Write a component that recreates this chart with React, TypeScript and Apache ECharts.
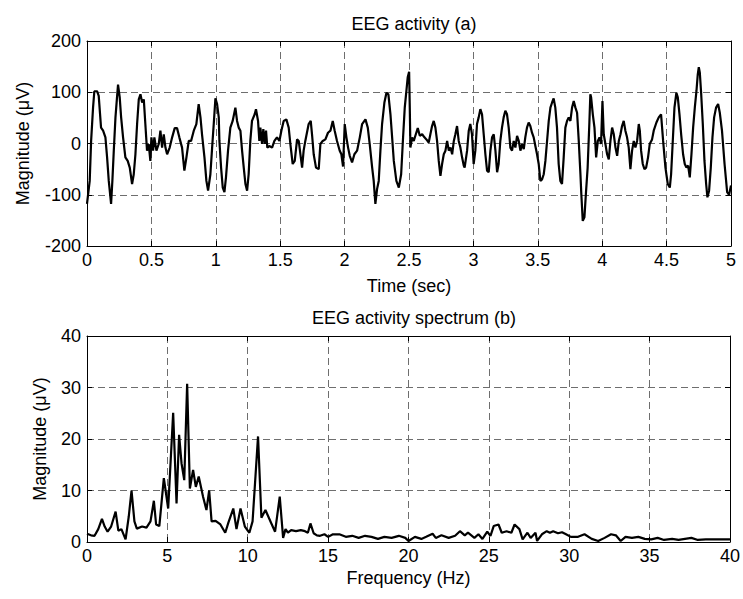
import React, { useEffect, useRef } from "react";
import * as echarts from "echarts";

// ---- EEG activity (a): time (sec) vs magnitude (uV) ----
const eegTime = [
  0.0, 0.021, 0.032, 0.047, 0.057, 0.078, 0.091, 0.109, 0.125, 0.143, 0.156, 0.169, 0.187, 0.197, 0.208, 0.221, 0.233, 0.241, 0.254, 0.265,
  0.28, 0.298, 0.316, 0.332, 0.35, 0.363, 0.376, 0.389, 0.402, 0.415, 0.428, 0.441, 0.453, 0.466, 0.479, 0.492, 0.5, 0.513, 0.523, 0.539,
  0.557, 0.57, 0.583, 0.596, 0.609, 0.622, 0.642, 0.661, 0.681, 0.699, 0.717, 0.738, 0.756, 0.772, 0.79, 0.808, 0.829, 0.849, 0.867, 0.881,
  0.893, 0.912, 0.927, 0.94, 0.958, 0.971, 0.984, 0.997,
  1.01, 1.023, 1.028, 1.041, 1.054, 1.067, 1.079, 1.095, 1.113, 1.131, 1.152, 1.165, 1.178, 1.191, 1.204, 1.217, 1.23, 1.243, 1.255, 1.268,
  1.281, 1.302, 1.312, 1.328, 1.338, 1.346, 1.359, 1.369, 1.38, 1.39, 1.4, 1.416, 1.437, 1.455, 1.475, 1.494, 1.509, 1.527, 1.548, 1.566,
  1.579, 1.597, 1.613, 1.631, 1.644, 1.657, 1.67, 1.682, 1.695, 1.721, 1.737, 1.747, 1.76, 1.778, 1.799, 1.812, 1.83, 1.851, 1.871, 1.89,
  1.908, 1.923, 1.941, 1.962,
  1.975, 1.988, 2.001, 2.014, 2.027, 2.04, 2.058, 2.076, 2.097, 2.118, 2.136, 2.162, 2.18, 2.195, 2.214, 2.226, 2.239, 2.252, 2.265, 2.278,
  2.291, 2.309, 2.325, 2.34, 2.356, 2.369, 2.382, 2.402, 2.421, 2.439, 2.454, 2.467, 2.48, 2.49, 2.501, 2.506, 2.511, 2.524, 2.537, 2.553,
  2.568, 2.584, 2.602, 2.62, 2.635, 2.653, 2.666, 2.679, 2.692, 2.705, 2.718, 2.731, 2.744, 2.757, 2.77, 2.783, 2.796, 2.809, 2.822, 2.835,
  2.848, 2.86, 2.873, 2.886, 2.899, 2.912, 2.925,
  2.932, 2.951, 2.964, 2.976, 2.989, 3.002, 3.015, 3.028, 3.041, 3.054, 3.067, 3.08, 3.093, 3.106, 3.119, 3.132, 3.145, 3.158, 3.171, 3.184,
  3.196, 3.209, 3.222, 3.235, 3.248, 3.261, 3.274, 3.287, 3.3, 3.313, 3.326, 3.339, 3.352, 3.365, 3.378, 3.391, 3.403, 3.416, 3.429, 3.442,
  3.455, 3.468, 3.481, 3.494, 3.507, 3.52, 3.533, 3.546, 3.559, 3.572, 3.585, 3.598, 3.611, 3.623, 3.636, 3.649, 3.662, 3.675, 3.688, 3.701,
  3.714, 3.727, 3.74, 3.753, 3.766, 3.779, 3.792, 3.805, 3.818, 3.831, 3.838, 3.849, 3.862, 3.875, 3.887, 3.9, 3.908,
  3.914, 3.927, 3.94, 3.953, 3.966, 3.979, 3.991, 4.002, 4.012, 4.025, 4.038, 4.051, 4.064, 4.077, 4.09, 4.103, 4.116, 4.129, 4.142, 4.154,
  4.167, 4.18, 4.193, 4.206, 4.219, 4.232, 4.245, 4.258, 4.271, 4.284, 4.292, 4.302, 4.315, 4.328, 4.341, 4.356, 4.369, 4.387, 4.4, 4.421,
  4.439, 4.457, 4.473, 4.491, 4.509, 4.525, 4.535, 4.548, 4.561, 4.576, 4.587, 4.6, 4.613, 4.628, 4.641, 4.654, 4.667, 4.68, 4.693, 4.706,
  4.719, 4.732, 4.742, 4.75, 4.758, 4.768, 4.781, 4.794, 4.807, 4.817, 4.83, 4.843, 4.856, 4.869, 4.884, 4.9, 4.913, 4.93, 4.95, 4.97,
  4.985, 5.0,
];
const eegValue = [
  -118, -73, 5, 70, 102, 102, 93, 31, 25, 12, -27, -73, -118, -73, -14, 51, 90, 115, 90, 51,
  12, -27, -34, -47, -79, -60, -21, 38, 86, 96, 80, 86, 38, -14, -1, -34, 12, -14, 12, -14,
  -1, 25, -8, 18, -8, -21, -8, 12, 30, 30, 12, -8, -53, -27, 5, 5, 25, 38, 77, 51,
  18, -27, -73, -92, -60, -10, 38, 88,
  77, 51, 5, -47, -86, -95, -66, -14, 31, 44, 70, 44, 31, 25, -14, -47, -79, -92, -60, 5,
  44, 57, 67, 44, 5, 31, -1, 28, -1, 25, -8, -5, -8, 5, 12, 5, 25, 44, 47, 31,
  -1, -40, -34, 8, 5, -21, -47, -14, 5, 38, 44, 18, -21, -47, -50, -1, 5, 8, 21, 25,
  44, 25, 5, -14,
  -21, -45, 38, 12, -8, -24, -37, -21, -14, 12, 38, 47, 31, -1, -47, -73, -118, -89, -73, -14,
  38, 80, 99, 96, 57, 12, -34, -73, -86, -60, 12, 70, 103, 129, 140, 70, -8, 12, 5, 18,
  30, 15, 18, 12, 8, 2, 18, 34, 44, 31, 5, -34, -63, -40, -21, -14, 5, -14, -8, -21,
  5, 18, 34, 5, -8, -27, -43,
  -47, -14, 25, 38, 18, -40, -14, 38, 51, 67, 57, 18, -21, -53, -56, -14, 12, 18, -14, -56,
  -40, 5, 31, 51, 64, 57, 31, -8, -14, 5, -8, 15, 5, -14, -1, -11, 12, 31, 41, 34,
  21, 12, -5, -21, -40, -73, -70, -60, -34, 5, 44, 70, 80, 88, 70, 31, -40, -73, -79, -27,
  31, 44, 51, 44, 70, 83, 70, 60, 5, -60, -99, -151, -144, -92, -47, 38, 96,
  90, 57, 31, -27, 5, 12, -1, 83, 18, -1, -21, -31, 5, 31, 18, -8, -24, 5, 18, 34,
  44, 25, 12, -8, -50, -14, 5, -8, 5, 38, 25, -14, -40, -50, -47, -27, -1, 8, 25, 41,
  51, 57, 5, -47, -79, -86, -60, 5, 70, 99, 90, 57, 18, -21, -40, -47, -43, -66, -21, 31,
  70, 103, 135, 149, 138, 99, 38, -34, -79, -105, -92, -47, 12, 51, 70, 77, 60, 25, -40, -95,
  -100, -82,
];

// ---- EEG activity spectrum (b): frequency (Hz) vs magnitude (uV) ----
const specFreq = [
  0.0, 0.25, 0.47, 0.7, 0.93, 1.1, 1.28, 1.5, 1.78, 1.95, 2.14, 2.4, 2.6, 2.77, 2.95, 3.1, 3.43, 3.7, 3.95, 4.16,
  4.3, 4.5, 4.78, 5.05, 5.36, 5.57, 5.73, 5.88, 6.05, 6.23, 6.4, 6.6, 6.77, 6.95, 7.22, 7.43, 7.6, 7.75, 8.0, 8.3,
  8.6, 8.8, 9.1, 9.3, 9.55, 9.82, 10.1, 10.3, 10.64, 10.85, 11.1, 11.47, 11.7, 11.99, 12.2, 12.35, 12.5, 12.7, 13.0, 13.3,
  13.56, 13.74, 13.9, 14.1, 14.3, 14.5, 14.77, 15.0, 15.3, 15.7, 16.1, 16.5, 16.9, 17.3, 17.7, 18.1, 18.5, 18.95, 19.4, 19.8,
  20.0, 20.4, 20.8, 21.1, 21.5, 21.7, 22.05, 22.5, 22.9, 23.2, 23.5, 23.7, 24.1, 24.35, 24.6, 24.9, 25.1, 25.3, 25.6, 25.8,
  26.1, 26.4, 26.6, 26.9, 27.1, 27.4, 27.6, 27.9, 28.0, 28.3, 28.6, 28.8, 29.0, 29.3, 29.55, 29.8, 30.1, 30.55, 30.95, 31.4,
  31.8, 32.2, 32.6, 32.9, 33.2, 33.5, 33.9, 34.3, 34.7, 35.1, 35.5, 35.9, 36.4, 36.8, 37.2, 37.6, 38.0, 38.5, 39.0, 39.5,
  40.0,
];
const specMag = [
  1.6, 1.3, 1.2, 2.5, 4.5, 3.0, 2.0, 3.0, 5.9, 2.2, 2.5, 0.5, 5.0, 10.0, 4.0, 2.6, 3.0, 2.8, 4.0, 8.0,
  3.4, 3.1, 12.4, 6.5, 25.1, 7.5, 20.8, 15.3, 12.0, 30.7, 10.4, 14.0, 10.7, 12.7, 8.8, 6.2, 10.0, 4.0, 4.1, 3.4,
  1.8, 3.8, 6.5, 2.5, 6.5, 3.0, 1.8, 4.0, 20.5, 4.7, 6.2, 3.6, 2.0, 8.8, 0.8, 2.5, 1.8, 2.3, 2.1, 2.3,
  2.1, 1.8, 3.6, 1.7, 1.3, 1.2, 1.5, 1.0, 1.5, 1.5, 1.0, 1.2, 0.8, 1.2, 1.0, 0.6, 1.0, 0.8, 1.2, 0.8,
  0.2, 1.0, 0.6, 1.0, 1.6, 0.8, 1.3, 0.8, 1.2, 2.1, 1.3, 1.8, 0.8, 1.5, 0.6, 2.0, 1.2, 3.1, 3.4, 1.8,
  2.1, 1.8, 3.4, 2.5, 0.5, 1.8, 0.8, 1.8, 0.2, 1.5, 2.1, 1.8, 2.1, 1.7, 1.9, 1.5, 1.0, 1.0, 1.5, 0.6,
  0.2, 0.8, 1.5, 1.3, 0.2, 1.0, 0.8, 1.0, 0.6, 0.5, 0.8, 0.4, 0.6, 0.4, 0.6, 0.8, 0.4, 0.5, 0.5, 0.5,
  0.5,
];

const timeTicks = { min: 0, max: 5, interval: 0.5 };
const eegTicks = { min: -200, max: 200, interval: 100 };
const freqTicks = { min: 0, max: 40, interval: 5 };
const specTicks = { min: 0, max: 40, interval: 10 };

const FONT = "'Liberation Sans', Arial, Helvetica, sans-serif";
const FS = 18;

export default function App() {
  const ref = useRef<HTMLDivElement>(null);

  useEffect(() => {
    if (!ref.current) return;
    const chart = echarts.init(ref.current, undefined, { renderer: "svg" });

    const gridDash = { type: [7, 4] as any, color: "#6e6e6e", width: 1 };
    const labelStyle = { color: "#000", fontSize: FS, fontFamily: FONT };
    const nameStyle = { color: "#000", fontSize: FS, fontFamily: FONT };

    const mainX = (gridIndex: number, r: any, name: string, gap: number) => ({
      type: "value",
      gridIndex,
      min: r.min,
      max: r.max,
      interval: r.interval,
      position: "bottom",
      name,
      nameLocation: "middle",
      nameGap: gap,
      nameTextStyle: nameStyle,
      axisLine: { show: true, onZero: false, lineStyle: { color: "#000", width: 1 } },
      axisTick: { show: true, inside: true, length: 5, lineStyle: { color: "#000" } },
      axisLabel: { ...labelStyle, margin: 5 },
      splitLine: { show: true, lineStyle: gridDash },
    });
    const sideX = (gridIndex: number, r: any) => ({
      type: "value",
      gridIndex,
      min: r.min,
      max: r.max,
      interval: r.interval,
      position: "top",
      axisLine: { show: true, onZero: false, lineStyle: { color: "#000", width: 1 } },
      axisTick: { show: true, inside: true, length: 5, lineStyle: { color: "#000" } },
      axisLabel: { show: false },
      splitLine: { show: false },
    });
    const mainY = (gridIndex: number, r: any, name: string, gap: number) => ({
      type: "value",
      gridIndex,
      min: r.min,
      max: r.max,
      interval: r.interval,
      position: "left",
      name,
      nameLocation: "middle",
      nameGap: gap,
      nameRotate: 90,
      nameTextStyle: nameStyle,
      axisLine: { show: true, onZero: false, lineStyle: { color: "#000", width: 1 } },
      axisTick: { show: true, inside: true, length: 5, lineStyle: { color: "#000" } },
      axisLabel: { ...labelStyle, margin: 6 },
      splitLine: { show: true, lineStyle: gridDash },
    });
    const sideY = (gridIndex: number, r: any) => ({
      type: "value",
      gridIndex,
      min: r.min,
      max: r.max,
      interval: r.interval,
      position: "right",
      axisLine: { show: true, onZero: false, lineStyle: { color: "#000", width: 1 } },
      axisTick: { show: true, inside: true, length: 5, lineStyle: { color: "#000" } },
      axisLabel: { show: false },
      splitLine: { show: false },
    });

    const eegData = eegTime.map((t, i) => [t, eegValue[i]]);
    const specData = specFreq.map((f, i) => [f, specMag[i]]);

    chart.setOption({
      animation: false,
      backgroundColor: "#fff",
      title: [
        {
          text: "EEG activity (a)",
          left: 409,
          top: 10,
          textAlign: "center",
          textStyle: { color: "#000", fontSize: FS, fontWeight: "normal", fontFamily: FONT },
        },
        {
          text: "EEG activity spectrum (b)",
          left: 409,
          top: 304,
          textAlign: "center",
          textStyle: { color: "#000", fontSize: FS, fontWeight: "normal", fontFamily: FONT },
        },
      ],
      grid: [
        { left: 87, top: 41, width: 644, height: 205, containLabel: false },
        { left: 87, top: 336, width: 644, height: 206, containLabel: false },
      ],
      xAxis: [
        mainX(0, timeTicks, "Time (sec)", 31),
        sideX(0, timeTicks),
        mainX(1, freqTicks, "Frequency (Hz)", 27),
        sideX(1, freqTicks),
      ],
      yAxis: [
        mainY(0, eegTicks, "Magnitude (\u03bcV)", 55),
        sideY(0, eegTicks),
        mainY(1, specTicks, "Magnitude (\u03bcV)", 38),
        sideY(1, specTicks),
      ],
      series: [
        {
          type: "line",
          xAxisIndex: 0,
          yAxisIndex: 0,
          data: eegData,
          showSymbol: false,
          lineStyle: { color: "#000", width: 2.2 },
          z: 5,
        },
        {
          type: "line",
          xAxisIndex: 2,
          yAxisIndex: 2,
          data: specData,
          showSymbol: false,
          lineStyle: { color: "#000", width: 2.2 },
          z: 5,
        },
      ],
    });

    return () => chart.dispose();
  }, []);

  return (
    <div
      ref={ref}
      style={{ position: "fixed", left: 0, top: 0, width: 743, height: 599, background: "#fff" }}
    />
  );
}
